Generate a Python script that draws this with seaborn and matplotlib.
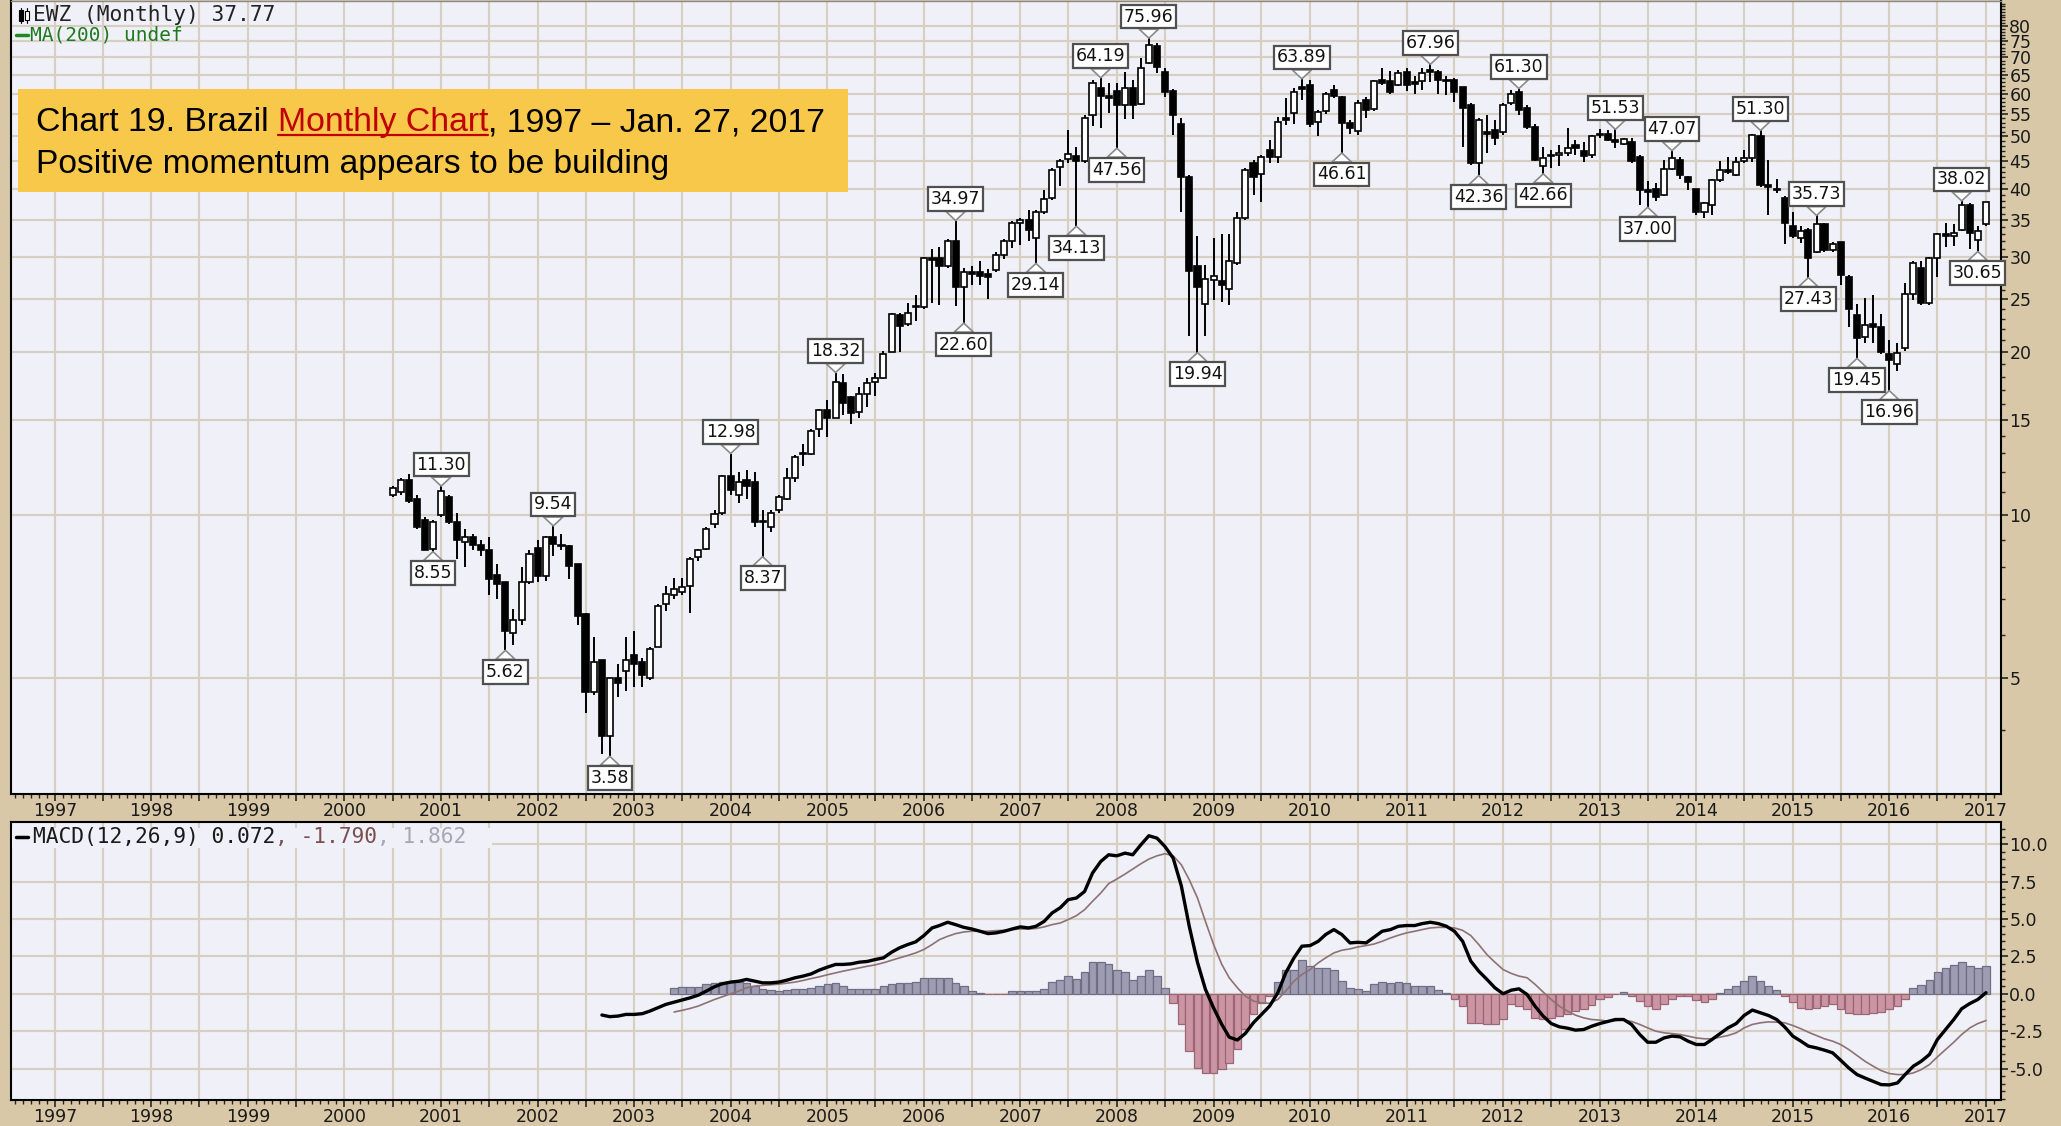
import matplotlib
matplotlib.use("Agg")
import matplotlib.pyplot as plt
import matplotlib.dates as mdates
import matplotlib.ticker as mticker
from matplotlib.patches import Rectangle
from matplotlib.lines import Line2D
import numpy as np
import pandas as pd
import seaborn as sns

# ---------------------------------------------------------------- data
candle_start = "2000-07-01"
opens = [
    10.9, 11.0, 11.6, 10.7, 9.8, 8.65,
    10.0, 10.8, 9.7, 8.9, 9.1, 8.8, 8.6, 7.75, 7.5, 6.05, 6.4, 7.5,
    8.7, 7.7, 9.1, 8.8, 8.75, 8.1, 6.55, 4.7, 5.4, 3.9, 5.0, 5.15,
    5.5, 5.35, 5.0, 5.7, 6.85, 7.1, 7.2, 7.4, 8.35, 8.65, 9.6, 10.1,
    11.8, 10.9, 11.6, 11.5, 9.7, 9.5, 10.2, 10.7, 11.7, 12.95, 12.95, 14.4,
    15.6, 15.1, 17.5, 16.5, 15.5, 16.7, 17.6, 17.9, 20.0, 23.4, 22.5, 24.2,
    24.2, 29.8, 29.8, 28.8, 32.0, 26.4, 28.1, 28.1, 27.8, 28.3, 30.2, 32.0,
    34.6, 35.1, 32.5, 36.2, 38.5, 44.0, 45.4, 46.0, 45.0, 54.7, 61.5, 59.5,
    60.8, 57.2, 61.5, 57.5, 68.3, 73.5, 65.9, 60.8, 52.8, 42.1, 28.8, 24.5,
    27.2, 27.0, 26.1, 29.2, 35.3, 44.6, 42.7, 47.3, 45.8, 54.2, 55.2, 61.8,
    62.2, 53.2, 55.8, 61.0, 59.2, 52.9, 51.1, 58.4, 56.3, 63.6, 63.2, 62.3,
    65.9, 63.0, 63.2, 66.4, 65.9, 63.6, 63.6, 61.8, 57.2, 44.6, 51.0, 51.3,
    51.0, 57.6, 60.5, 56.4, 52.0, 44.1, 46.0, 46.3, 46.6, 48.2, 47.0, 46.3,
    50.6, 50.6, 49.2, 48.5, 48.8, 45.9, 39.8, 40.0, 39.0, 43.6, 45.3, 42.0,
    40.0, 36.2, 37.4, 41.5, 43.4, 42.5, 45.0, 45.6, 50.0, 40.6, 40.0, 38.5,
    34.2, 32.5, 33.6, 30.6, 34.4, 30.8, 31.9, 27.5, 23.4, 21.3, 22.5, 22.2,
    19.8, 19.0, 20.3, 25.6, 28.6, 24.6, 29.8, 33.0, 32.8, 33.6, 37.4, 32.2,
    34.4,
]
highs = [
    11.3, 11.7, 11.9, 10.9, 9.9, 9.8,
    11.30, 10.9, 10.1, 9.4, 9.2, 9.0, 9.1, 8.1, 7.5, 6.7, 8.0, 8.6,
    9.0, 9.15, 9.54, 9.2, 8.8, 8.1, 6.6, 5.95, 5.4, 5.0, 5.3, 5.95,
    6.1, 5.45, 5.7, 6.85, 7.4, 7.65, 7.65, 8.35, 8.65, 9.5, 10.2, 11.85,
    12.98, 12.0, 12.1, 12.0, 10.2, 10.2, 10.9, 12.2, 12.9, 13.5, 14.4, 15.7,
    16.3, 18.32, 18.2, 16.6, 17.2, 17.9, 18.3, 20.1, 23.6, 23.6, 24.6, 25.5,
    30.0, 31.0, 31.2, 32.3, 34.97, 28.6, 28.8, 29.5, 28.5, 30.6, 32.3, 34.9,
    35.3, 36.6, 36.6, 39.8, 43.7, 45.4, 51.5, 47.8, 54.7, 63.5, 64.19, 62.7,
    62.7, 65.9, 63.5, 69.8, 75.96, 74.5, 66.8, 61.3, 54.0, 42.5, 32.7, 29.0,
    32.5, 33.0, 33.0, 36.3, 43.7, 45.3, 46.3, 49.2, 54.4, 59.0, 61.5, 63.89,
    63.5, 56.0, 60.5, 62.2, 59.5, 53.6, 58.4, 59.2, 63.6, 66.8, 66.0, 66.4,
    66.8, 64.7, 66.8, 67.96, 66.4, 64.7, 64.0, 61.8, 57.6, 54.0, 54.8, 53.6,
    57.6, 61.0, 61.30, 57.2, 52.8, 47.9, 47.3, 48.2, 51.8, 49.2, 48.8, 50.3,
    51.6, 51.3, 51.53, 49.7, 49.7, 46.3, 41.3, 41.0, 45.3, 47.07, 45.9, 42.2,
    40.0, 37.9, 41.8, 45.0, 45.9, 45.9, 47.3, 50.6, 51.30, 45.3, 41.8, 38.8,
    36.3, 34.2, 33.9, 35.73, 34.6, 31.9, 31.9, 27.7, 24.5, 25.1, 25.5, 23.5,
    21.0, 20.8, 26.8, 29.4, 29.4, 30.0, 33.2, 34.6, 34.4, 38.02, 37.6, 34.2,
    37.9,
]
lows = [
    10.8, 10.9, 10.5, 9.4, 8.6, 8.55,
    9.9, 9.6, 8.3, 8.0, 8.6, 8.4, 7.1, 7.0, 5.62, 5.75, 6.25, 7.45,
    7.5, 7.55, 8.4, 8.6, 7.6, 6.25, 4.3, 4.65, 3.62, 3.58, 4.6, 4.72,
    4.8, 4.8, 4.95, 5.7, 6.65, 7.0, 7.1, 6.6, 8.2, 8.6, 9.45, 10.0,
    10.9, 10.5, 10.7, 9.5, 8.37, 9.3, 10.1, 10.65, 11.5, 12.3, 12.9, 13.95,
    13.9, 15.1, 15.3, 14.7, 15.1, 15.8, 16.6, 17.8, 20.0, 20.0, 22.3, 22.8,
    24.0, 24.6, 24.4, 28.6, 24.3, 22.6, 26.6, 26.6, 25.0, 28.1, 29.7, 31.1,
    31.5, 32.0, 29.14, 35.9, 38.2, 40.5, 44.6, 34.13, 44.6, 52.3, 51.8, 55.2,
    47.56, 53.8, 53.8, 57.2, 68.0, 65.4, 59.2, 50.3, 36.3, 21.4, 19.94, 21.4,
    24.9, 24.7, 24.4, 29.0, 35.0, 39.0, 37.8, 44.6, 44.6, 52.4, 52.8, 58.4,
    52.0, 50.0, 55.0, 59.0, 46.61, 50.5, 50.3, 54.0, 55.8, 62.3, 59.9, 62.0,
    60.8, 59.9, 61.0, 63.0, 60.0, 59.6, 58.0, 47.9, 44.3, 42.36, 46.6, 48.2,
    50.3, 57.2, 54.8, 51.6, 45.0, 42.66, 43.8, 44.1, 46.0, 46.3, 44.9, 45.6,
    49.7, 49.0, 47.6, 48.2, 44.6, 37.3, 37.00, 38.0, 38.8, 43.3, 41.8, 39.8,
    35.8, 35.3, 35.8, 41.2, 42.7, 42.2, 44.6, 44.9, 40.3, 35.8, 39.3, 31.6,
    32.5, 31.8, 27.43, 30.4, 30.6, 30.6, 26.6, 22.2, 19.45, 20.8, 20.8, 19.8,
    16.96, 18.4, 20.1, 24.9, 24.4, 24.4, 27.5, 31.2, 31.4, 33.4, 31.0, 30.65,
    34.2,
]
closes = [
    11.2, 11.6, 10.6, 9.5, 8.6, 9.7,
    11.05, 9.7, 9.0, 9.1, 8.8, 8.6, 7.6, 7.45, 6.1, 6.4, 7.5, 8.45,
    7.7, 9.1, 8.85, 8.75, 8.05, 6.5, 4.7, 5.35, 3.9, 5.0, 4.9, 5.4,
    5.3, 5.05, 5.65, 6.8, 7.15, 7.3, 7.35, 8.3, 8.6, 9.4, 10.05, 11.8,
    11.1, 11.5, 11.3, 9.7, 9.75, 10.1, 10.8, 11.7, 12.8, 13.0, 14.3, 15.6,
    15.1, 17.6, 16.1, 15.4, 16.7, 17.5, 17.9, 19.8, 23.5, 22.3, 23.6, 24.3,
    29.8, 29.6, 28.8, 32.0, 26.4, 28.1, 27.8, 27.6, 27.5, 30.2, 32.0, 34.6,
    35.1, 33.6, 36.2, 38.3, 43.4, 45.0, 46.5, 45.0, 54.0, 62.7, 59.5, 59.0,
    57.2, 61.5, 57.2, 66.8, 73.8, 67.3, 60.5, 54.8, 42.1, 28.2, 26.4, 27.3,
    27.6, 26.6, 29.4, 35.3, 43.4, 42.1, 45.9, 45.8, 53.2, 53.6, 60.5, 61.2,
    52.8, 55.6, 60.0, 59.3, 53.0, 51.8, 57.6, 56.0, 63.2, 62.8, 60.5, 65.4,
    62.3, 62.6, 65.4, 65.7, 63.6, 63.2, 60.5, 56.4, 44.6, 53.6, 50.6, 49.7,
    57.2, 60.0, 56.0, 52.0, 45.3, 45.6, 46.3, 46.6, 47.6, 47.6, 46.0, 50.0,
    50.3, 49.2, 48.8, 49.5, 45.0, 39.8, 39.4, 38.6, 43.6, 45.6, 42.4, 41.2,
    36.2, 37.6, 41.5, 43.4, 43.0, 44.9, 45.6, 50.3, 40.6, 40.4, 39.8, 34.6,
    32.8, 33.4, 29.8, 34.4, 30.8, 31.7, 27.7, 24.0, 21.2, 22.4, 22.2, 20.0,
    19.3, 19.9, 25.6, 29.2, 24.6, 29.8, 33.0, 32.8, 33.2, 37.4, 33.2, 33.4,
    37.77,
]

macd_start = "2002-09-01"
macd_line = [
    -1.42, -1.53, -1.49, -1.38,
    -1.38, -1.33, -1.16, -0.93, -0.71, -0.56, -0.42, -0.27, -0.09, 0.18, 0.47, 0.67,
    0.78, 0.84, 0.96, 0.84, 0.73, 0.73, 0.78, 0.91, 1.07, 1.18, 1.33, 1.58,
    1.78, 1.96, 1.96, 2.00, 2.11, 2.16, 2.29, 2.40, 2.78, 3.07, 3.29, 3.47,
    3.89, 4.40, 4.56, 4.78, 4.62, 4.44, 4.33, 4.18, 4.02, 4.07, 4.18, 4.33,
    4.47, 4.40, 4.51, 4.84, 5.40, 5.75, 6.29, 6.40, 6.84, 8.07, 8.84, 9.29,
    9.22, 9.40, 9.29, 9.96, 10.56, 10.40, 9.84, 9.07, 7.20, 4.50, 2.10, 0.30,
    -0.95, -2.05, -2.90, -3.09, -2.65, -1.93, -1.38, -0.82, 0.07, 1.40, 2.40, 3.18,
    3.22, 3.51, 3.96, 4.29, 3.96, 3.40, 3.44, 3.40, 3.80, 4.18, 4.29, 4.51,
    4.56, 4.56, 4.69, 4.78, 4.69, 4.51, 4.18, 3.51, 2.18, 1.51, 0.96, 0.40,
    0.00, 0.24, 0.33, -0.05, -0.83, -1.50, -1.99, -2.21, -2.30, -2.43, -2.39, -2.17,
    -1.99, -1.85, -1.72, -1.72, -2.05, -2.72, -3.24, -3.24, -2.95, -2.83, -2.88, -3.17,
    -3.39, -3.39, -3.06, -2.66, -2.28, -1.99, -1.45, -1.09, -1.27, -1.45, -1.72, -2.21,
    -2.83, -3.17, -3.50, -3.62, -3.77, -3.95, -4.44, -4.96, -5.40, -5.63, -5.85, -6.07,
    -6.09, -5.96, -5.40, -4.84, -4.51, -4.06, -3.06, -2.39, -1.72, -1.00, -0.65, -0.38,
    0.072,
]
signal_start = "2003-06-01"
signal_line = [
    -1.22, -1.11, -0.98, -0.82, -0.60, -0.38, -0.20,
    0.00, 0.18, 0.40, 0.51, 0.56, 0.60, 0.64, 0.71, 0.78, 0.89, 1.02, 1.13,
    1.27, 1.40, 1.51, 1.62, 1.73, 1.84, 1.93, 2.07, 2.24, 2.40, 2.56, 2.73,
    2.96, 3.29, 3.62, 3.84, 4.02, 4.13, 4.18, 4.18, 4.18, 4.22, 4.24, 4.29,
    4.33, 4.33, 4.36, 4.47, 4.62, 4.73, 4.96, 5.22, 5.62, 6.18, 6.73, 7.36,
    7.67, 8.00, 8.33, 8.69, 9.00, 9.22, 9.36, 9.22, 8.62, 7.62, 6.40, 4.84,
    3.29, 1.96, 1.07, 0.40, -0.16, -0.49, -0.60, -0.64, -0.38, 0.18, 0.84, 1.29,
    1.62, 2.07, 2.40, 2.73, 2.91, 3.00, 3.13, 3.22, 3.33, 3.51, 3.73, 3.91,
    4.07, 4.18, 4.29, 4.40, 4.44, 4.44, 4.40, 4.24, 3.89, 3.29, 2.62, 2.11,
    1.62, 1.36, 1.18, 1.07, 0.63, 0.11, -0.38, -0.83, -1.16, -1.43, -1.61, -1.72,
    -1.76, -1.83, -1.79, -1.76, -1.85, -2.05, -2.28, -2.50, -2.61, -2.66, -2.72, -2.83,
    -2.95, -3.01, -3.01, -2.90, -2.79, -2.61, -2.28, -2.05, -1.94, -1.88, -1.90, -1.94,
    -2.12, -2.34, -2.57, -2.79, -3.01, -3.17, -3.39, -3.73, -4.13, -4.51, -4.84, -5.13,
    -5.33, -5.40, -5.40, -5.29, -5.07, -4.73, -4.22, -3.73, -3.24, -2.72, -2.28, -1.99,
    -1.79,
]
hist_values = [
    0.40, 0.47, 0.47, 0.47, 0.62, 0.69, 0.78,
    0.78, 0.78, 0.69, 0.51, 0.33, 0.22, 0.18, 0.24, 0.33, 0.33, 0.40, 0.51,
    0.62, 0.69, 0.51, 0.33, 0.33, 0.33, 0.33, 0.51, 0.62, 0.69, 0.73, 0.78,
    1.07, 1.07, 1.07, 1.07, 0.69, 0.51, 0.18, 0.07, -0.02, -0.02, -0.02, 0.18,
    0.18, 0.18, 0.18, 0.33, 0.78, 0.91, 1.18, 1.02, 1.44, 2.11, 2.11, 2.00,
    1.62, 1.44, 0.91, 1.18, 1.58, 1.18, 0.40, -0.60, -2.04, -3.82, -4.93, -5.27,
    -5.27, -5.04, -4.60, -3.71, -2.38, -1.38, -0.60, -0.16, 0.78, 1.62, 1.62, 2.29,
    1.84, 1.73, 1.73, 1.58, 0.84, 0.40, 0.29, 0.18, 0.62, 0.78, 0.69, 0.78,
    0.69, 0.51, 0.51, 0.51, 0.22, 0.02, -0.38, -0.82, -1.93, -1.93, -2.04, -2.04,
    -1.71, -0.70, -0.82, -1.04, -1.61, -1.67, -1.61, -1.50, -1.32, -1.16, -1.05, -0.78,
    -0.38, -0.20, -0.04, 0.11, -0.16, -0.49, -0.83, -1.00, -0.71, -0.38, -0.16, -0.16,
    -0.42, -0.56, -0.33, 0.07, 0.29, 0.51, 0.85, 1.18, 0.85, 0.51, 0.22, -0.16,
    -0.56, -0.94, -1.00, -0.94, -0.83, -0.71, -1.00, -1.27, -1.38, -1.32, -1.27, -1.23,
    -1.05, -0.83, -0.33, 0.40, 0.56, 0.92, 1.45, 1.74, 1.90, 2.12, 1.85, 1.74,
    1.862,
]

label_dates = ["2001-01", "2000-12", "2001-09", "2002-03", "2002-10", "2004-01",
               "2004-05", "2005-02", "2006-05", "2006-06", "2007-03", "2007-08",
               "2007-11", "2008-01", "2008-05", "2008-11", "2009-12", "2010-05",
               "2011-04", "2011-10", "2012-03", "2012-06", "2013-03", "2013-07",
               "2013-10", "2014-09", "2015-04", "2015-03", "2015-09", "2016-01",
               "2016-10", "2016-12"]
label_values = [11.30, 8.55, 5.62, 9.54, 3.58, 12.98, 8.37, 18.32, 34.97, 22.60,
                29.14, 34.13, 64.19, 47.56, 75.96, 19.94, 63.89, 46.61, 67.96,
                42.36, 61.30, 42.66, 51.53, 37.00, 47.07, 51.30, 35.73, 27.43,
                19.45, 16.96, 38.02, 30.65]
label_kind = ["high", "low", "low", "high", "low", "high", "low", "high", "high",
              "low", "low", "low", "high", "low", "high", "low", "high", "low",
              "high", "low", "high", "low", "high", "low", "high", "high", "high",
              "low", "low", "low", "high", "low"]

year_labels = list(range(1997, 2018))
price_ticks = [5, 10, 15, 20, 25, 30, 35, 40, 45, 50, 55, 60, 65, 70, 75, 80]
macd_ticks = [-5.0, -2.5, 0.0, 2.5, 5.0, 7.5, 10.0]

ticker_text = "EWZ (Monthly) 37.77"
ma_text = "MA(200) undef"
macd_text_parts = ["MACD(12,26,9) 0.072", ", -1.790", ", 1.862"]
title_parts = ["Chart 19. Brazil ", "Monthly Chart", ", 1997 \u2013 Jan. 27, 2017"]
subtitle = "Positive momentum appears to be building"

# ---------------------------------------------------------------- frames
candles = pd.DataFrame({
    "date": pd.date_range(candle_start, periods=len(opens), freq="MS"),
    "open": opens, "high": highs, "low": lows, "close": closes})
macd_df = pd.DataFrame({
    "date": pd.date_range(macd_start, periods=len(macd_line), freq="MS"),
    "macd": macd_line})
sig_df = pd.DataFrame({
    "date": pd.date_range(signal_start, periods=len(signal_line), freq="MS"),
    "signal": signal_line, "hist": hist_values})
labels_df = pd.DataFrame({"date": pd.to_datetime(label_dates), "value": label_values,
                          "kind": label_kind})

# ---------------------------------------------------------------- style
TAN = "#D8C8A7"
PANEL = "#EFF0F8"
GRID = "#D6CFC2"
sns.set_theme(style="white", rc={"axes.facecolor": PANEL, "figure.facecolor": TAN,
                                 "axes.edgecolor": "black"})
plt.rcParams["font.family"] = ["DejaVu Sans"]

W, H = 2061, 1126
fig = plt.figure(figsize=(W / 100, H / 100), dpi=100, facecolor=TAN)


def fig_rect(left, top, right, bottom):
    return [left / W, 1 - bottom / H, (right - left) / W, (bottom - top) / H]


ax = fig.add_axes(fig_rect(10.5, 1, 2001, 794))
axm = fig.add_axes(fig_rect(10.5, 822, 2001, 1100))

# ---------------------------------------------------------------- candles
ax.set_yscale("log")
ax.vlines(candles["date"], candles["low"], candles["high"], color="black",
          lw=1.4, zorder=3)
body_lo = np.minimum(candles["open"], candles["close"]).to_numpy()
body_hi = np.maximum(candles["open"], candles["close"]).to_numpy()
body_hi = np.maximum(body_hi, body_lo * 1.006)
face = np.where(candles["close"] >= candles["open"], "white", "black")
ax.bar(candles["date"], body_hi - body_lo, bottom=body_lo, width=23,
       color=face, edgecolor="black", linewidth=1.2, zorder=4)

for _, r in labels_df.iterrows():
    up = r["kind"] == "high"
    ax.annotate(f"{r['value']:.2f}", xy=(r["date"], r["value"]),
                xytext=(0, 9 if up else -9), textcoords="offset points",
                ha="center", va="bottom" if up else "top", fontsize=12.5,
                color="#111111",
                bbox=dict(boxstyle="square,pad=0.16", fc="white", ec="#505050", lw=1.6),
                arrowprops=dict(arrowstyle="wedge,tail_width=1.1,shrink_factor=0.5",
                                fc="white", ec="#8a8a8a", lw=1.2,
                                shrinkA=0, shrinkB=0),
                zorder=7, annotation_clip=False)

# ---------------------------------------------------------------- MACD
pos = sig_df["hist"] >= 0
axm.bar(sig_df["date"], sig_df["hist"], width=29,
        color=np.where(pos, "#9D9CB3", "#CB95A3"),
        edgecolor=np.where(pos, "#6F6E82", "#9C6676"), linewidth=0.9, zorder=2)
sns.lineplot(data=sig_df, x="date", y="signal", ax=axm, color="#8E7272", lw=1.2, zorder=3)
sns.lineplot(data=macd_df, x="date", y="macd", ax=axm, color="black", lw=2.4, zorder=4)
axm.set_xlabel("")
axm.set_ylabel("")

# ---------------------------------------------------------------- axes
x_left = pd.Timestamp("1997-01-01") - pd.Timedelta(days=168.3)
x_right = pd.Timestamp("1997-01-01") + pd.Timedelta(days=7361.7)


def year_fmt(v, pos=None):
    d = mdates.num2date(v)
    return str(d.year) if (d.month == 1 and d.year in year_labels) else ""


for a in (ax, axm):
    a.set_facecolor(PANEL)
    a.set_xlim(x_left, x_right)
    a.xaxis.set_major_locator(mdates.MonthLocator(bymonth=[1, 7]))
    a.xaxis.set_minor_locator(mdates.MonthLocator())
    a.xaxis.set_major_formatter(mticker.FuncFormatter(year_fmt))
    a.grid(True, which="major", axis="both", color=GRID, lw=1.5)
    a.set_axisbelow(True)
    a.tick_params(axis="x", which="major", length=5, width=1.2, pad=1,
                  labelsize=12.5, direction="out", bottom=True, top=False,
                  labelcolor="#1a1a1a")
    a.tick_params(axis="x", which="minor", length=3, width=1.0, direction="out",
                  bottom=True, top=False)
    a.yaxis.tick_right()
    a.tick_params(axis="y", which="major", length=5, width=1.2, pad=1,
                  labelsize=12.5, direction="out", left=False, right=True,
                  labelleft=False, labelright=True, labelcolor="#1a1a1a")
    a.tick_params(axis="y", which="minor", length=3, width=1.0, direction="out",
                  left=False, right=True)
    for s in a.spines.values():
        s.set_color("black")
        s.set_linewidth(1.5)
ax.spines["top"].set_color("#8a8a8a")
ax.spines["top"].set_linewidth(1.0)

ax.set_ylim(3.05, 88.97)
ax.yaxis.set_major_locator(mticker.FixedLocator(price_ticks))
ax.yaxis.set_major_formatter(mticker.FuncFormatter(lambda v, p: f"{v:g}"))
ax.yaxis.set_minor_locator(mticker.FixedLocator(np.arange(4, 89)))
ax.yaxis.set_minor_formatter(mticker.NullFormatter())
ax.set_xlabel("")
ax.set_ylabel("")

axm.set_ylim(-7.10, 11.48)
axm.yaxis.set_major_locator(mticker.FixedLocator(macd_ticks))
axm.yaxis.set_major_formatter(mticker.FuncFormatter(lambda v, p: f"{v:.1f}"))
axm.yaxis.set_minor_locator(mticker.MultipleLocator(0.5))
axm.yaxis.set_minor_formatter(mticker.NullFormatter())

# ---------------------------------------------------------------- texts
renderer = fig.canvas.get_renderer()


def fx(px):
    return px / W


def fy(py):
    return 1 - py / H


def text_w(s, **kw):
    t = fig.text(0, 0, s, **kw)
    w = t.get_window_extent(renderer).width
    t.remove()
    return w


# legend of the price panel (small candle icon + texts)
fig.add_artist(Line2D([fx(21), fx(21)], [fy(8), fy(23)], transform=fig.transFigure,
                      color="black", lw=0.8, zorder=6))
fig.add_artist(Line2D([fx(27), fx(27)], [fy(8), fy(23)], transform=fig.transFigure,
                      color="black", lw=0.8, zorder=5))
fig.add_artist(Rectangle((fx(19), fy(21)), 4 / W, 11 / H, transform=fig.transFigure,
                         fc="black", ec="black", lw=0.8, zorder=6))
fig.add_artist(Rectangle((fx(25), fy(20)), 4 / W, 9 / H, transform=fig.transFigure,
                         fc="white", ec="black", lw=0.8, zorder=6))
mono = dict(family="DejaVu Sans Mono", fontsize=15.3)
fig.text(fx(33), fy(15), ticker_text, color="#222222", va="center", ha="left",
         zorder=6, **mono)
fig.add_artist(Line2D([fx(16), fx(28)], [fy(35), fy(35)], transform=fig.transFigure,
                      color="#1f8a1f", lw=2.5, zorder=6))
fig.text(fx(30), fy(35), ma_text, color="#1f7a1f", va="center", ha="left",
         zorder=6, family="DejaVu Sans Mono", fontsize=14)

# legend of the MACD panel
fig.add_artist(Rectangle((fx(12), fy(848)), 480 / W, 20 / H, transform=fig.transFigure,
                         fc=PANEL, ec="none", zorder=5))
fig.add_artist(Line2D([fx(16), fx(28)], [fy(837), fy(837)], transform=fig.transFigure,
                      color="black", lw=2.5, zorder=6))
x0 = 33
prefix = ""
for part, col in zip(macd_text_parts, ["#1a1a1a", "#7a4f4f", "#a6a6b6"]):
    off = text_w(prefix + "|", **mono) - text_w("|", **mono) if prefix else 0
    fig.text(fx(x0 + off), fy(837), part, color=col, va="center", ha="left",
             zorder=6, **mono)
    prefix += part

# title box
fig.add_artist(Rectangle((fx(18), fy(192)), (848 - 18) / W, (192 - 89) / H,
                         transform=fig.transFigure, fc="#F8C84B", ec="none", zorder=5))
tfam = "Liberation Sans"
full1 = "".join(title_parts)
size1 = 20 * 787 / text_w(full1, family=tfam, fontsize=20)
size2 = 20 * 633 / text_w(subtitle, family=tfam, fontsize=20)
tx0 = 36
prefix = ""
for part, col, ul in zip(title_parts, ["black", "#C00000", "black"], [False, True, False]):
    off = (text_w(prefix + "|", family=tfam, fontsize=size1)
           - text_w("|", family=tfam, fontsize=size1)) if prefix else 0
    fig.text(fx(tx0 + off), fy(131), part, family=tfam, fontsize=size1, color=col,
             va="baseline", ha="left", zorder=6)
    if ul:
        w = text_w(part, family=tfam, fontsize=size1)
        fig.add_artist(Line2D([fx(tx0 + off), fx(tx0 + off + w)], [fy(135), fy(135)],
                              transform=fig.transFigure, color=col, lw=1.6, zorder=6))
    prefix += part
fig.text(fx(tx0), fy(173), subtitle, family=tfam, fontsize=size2, color="black",
         va="baseline", ha="left", zorder=6)

fig.savefig("out.png", dpi=100, facecolor=TAN)
